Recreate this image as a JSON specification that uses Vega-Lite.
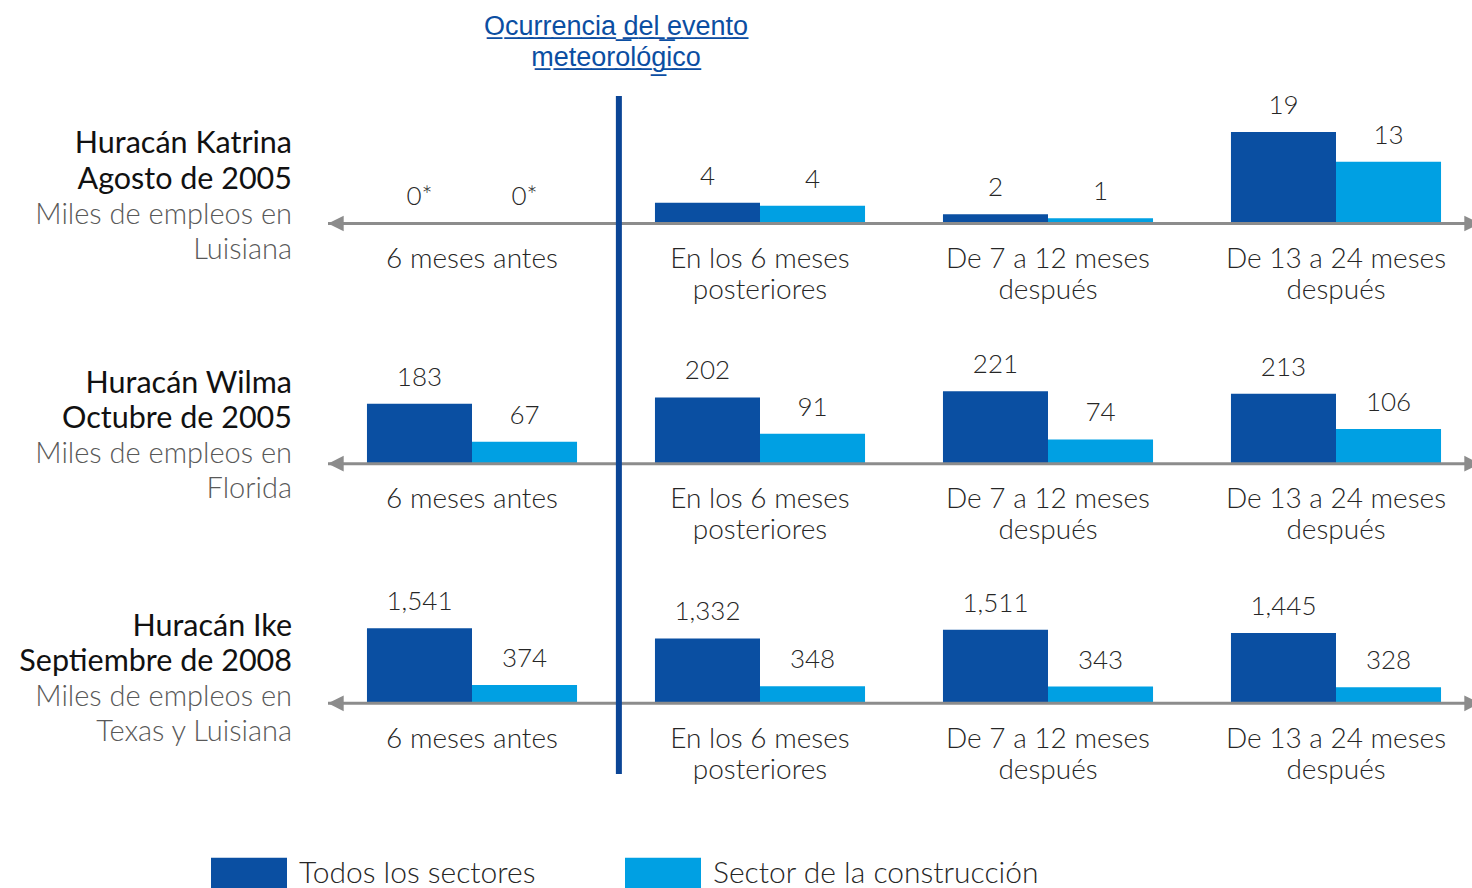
{
  "$schema": "https://vega.github.io/schema/vega-lite/v6.json",
  "padding": {"top": 12, "left": 0, "right": 0, "bottom": 0},
  "background": "white",
  "config": {"view": {"stroke": null}, "font": "Lato"},
  "title": {
    "text": ["O\u0332c\u0332u\u0332r\u0332r\u0332e\u0332n\u0332c\u0332i\u0332a\u0332 \u0332d\u0332e\u0332l\u0332 \u0332e\u0332v\u0332e\u0332n\u0332t\u0332o\u0332", "m\u0332e\u0332t\u0332e\u0332o\u0332r\u0332o\u0332l\u0332\u00f3\u0332g\u0332i\u0332c\u0332o\u0332"],
    "anchor": "start", "align": "center", "dx": 616, "frame": "group",
    "font": "Liberation Sans", "fontSize": 27, "fontWeight": "normal", "color": "#0b4ea2",
    "lineHeight": 31, "offset": 21
  },
  "datasets": {
    "bars": [
      {"storm": "Katrina", "cat": "6 meses antes", "series": "Todos los sectores", "value": 0, "label": "0*"},
      {"storm": "Katrina", "cat": "6 meses antes", "series": "Sector de la construcción", "value": 0, "label": "0*"},
      {"storm": "Katrina", "cat": "En los 6 meses posteriores", "series": "Todos los sectores", "value": 4.3, "label": "4"},
      {"storm": "Katrina", "cat": "En los 6 meses posteriores", "series": "Sector de la construcción", "value": 3.7, "label": "4"},
      {"storm": "Katrina", "cat": "De 7 a 12 meses después", "series": "Todos los sectores", "value": 1.9, "label": "2"},
      {"storm": "Katrina", "cat": "De 7 a 12 meses después", "series": "Sector de la construcción", "value": 1.1, "label": "1"},
      {"storm": "Katrina", "cat": "De 13 a 24 meses después", "series": "Todos los sectores", "value": 19, "label": "19"},
      {"storm": "Katrina", "cat": "De 13 a 24 meses después", "series": "Sector de la construcción", "value": 12.8, "label": "13"},
      {"storm": "Wilma", "cat": "6 meses antes", "series": "Todos los sectores", "value": 183, "label": "183"},
      {"storm": "Wilma", "cat": "6 meses antes", "series": "Sector de la construcción", "value": 67, "label": "67"},
      {"storm": "Wilma", "cat": "En los 6 meses posteriores", "series": "Todos los sectores", "value": 202, "label": "202"},
      {"storm": "Wilma", "cat": "En los 6 meses posteriores", "series": "Sector de la construcción", "value": 91, "label": "91"},
      {"storm": "Wilma", "cat": "De 7 a 12 meses después", "series": "Todos los sectores", "value": 221, "label": "221"},
      {"storm": "Wilma", "cat": "De 7 a 12 meses después", "series": "Sector de la construcción", "value": 74, "label": "74"},
      {"storm": "Wilma", "cat": "De 13 a 24 meses después", "series": "Todos los sectores", "value": 213, "label": "213"},
      {"storm": "Wilma", "cat": "De 13 a 24 meses después", "series": "Sector de la construcción", "value": 106, "label": "106"},
      {"storm": "Ike", "cat": "6 meses antes", "series": "Todos los sectores", "value": 1541, "label": "1,541"},
      {"storm": "Ike", "cat": "6 meses antes", "series": "Sector de la construcción", "value": 374, "label": "374"},
      {"storm": "Ike", "cat": "En los 6 meses posteriores", "series": "Todos los sectores", "value": 1332, "label": "1,332"},
      {"storm": "Ike", "cat": "En los 6 meses posteriores", "series": "Sector de la construcción", "value": 348, "label": "348"},
      {"storm": "Ike", "cat": "De 7 a 12 meses después", "series": "Todos los sectores", "value": 1511, "label": "1,511"},
      {"storm": "Ike", "cat": "De 7 a 12 meses después", "series": "Sector de la construcción", "value": 343, "label": "343"},
      {"storm": "Ike", "cat": "De 13 a 24 meses después", "series": "Todos los sectores", "value": 1445, "label": "1,445"},
      {"storm": "Ike", "cat": "De 13 a 24 meses después", "series": "Sector de la construcción", "value": 328, "label": "328"}
    ],
    "labels": [
      {"storm": "Katrina", "line": 1, "text": "Huracán Katrina"},
      {"storm": "Katrina", "line": 2, "text": "Agosto de 2005"},
      {"storm": "Katrina", "line": 3, "text": "Miles de empleos en"},
      {"storm": "Katrina", "line": 4, "text": "Luisiana"},
      {"storm": "Wilma", "line": 1, "text": "Huracán Wilma"},
      {"storm": "Wilma", "line": 2, "text": "Octubre de 2005"},
      {"storm": "Wilma", "line": 3, "text": "Miles de empleos en"},
      {"storm": "Wilma", "line": 4, "text": "Florida"},
      {"storm": "Ike", "line": 1, "text": "Huracán Ike"},
      {"storm": "Ike", "line": 2, "text": "Septiembre de 2008"},
      {"storm": "Ike", "line": 3, "text": "Miles de empleos en"},
      {"storm": "Ike", "line": 4, "text": "Texas y Luisiana"}
    ]
  },
  "spacing": 0,
  "vconcat": [
    {
      "spacing": 36, "bounds": "flush",
      "hconcat": [
        {
          "width": 292, "height": 240,
          "data": {"name": "labels"},
          "transform": [{"filter": "datum.storm == 'Katrina'"}],
          "encoding": {
            "x": {"datum": 1, "type": "quantitative", "scale": {"domain": [0, 1]}, "axis": null},
            "y": {"field": "line", "type": "quantitative", "scale": {"domain": [-0.3857, 6.4714], "reverse": true, "nice": false, "zero": false}, "axis": null},
            "text": {"field": "text"}
          },
          "layer": [
            {"transform": [{"filter": "datum.line <= 2"}], "mark": {"type": "text", "align": "right", "baseline": "middle", "fontSize": 30.5, "font": "Lato", "fontWeight": 400, "color": "#111111"}},
            {"transform": [{"filter": "datum.line > 2"}], "mark": {"type": "text", "align": "right", "baseline": "middle", "fontSize": 29, "font": "Lato", "fontWeight": 300, "color": "#595959"}}
          ]
        },
        {
          "width": 1144, "height": 240,
          "data": {"name": "bars"},
          "transform": [{"filter": "datum.storm == 'Katrina'"}],
          "layer": [
            {
              "mark": {"type": "bar"},
              "encoding": {
                "x": {"field": "cat", "type": "nominal", "sort": ["6 meses antes", "En los 6 meses posteriores", "De 7 a 12 meses después", "De 13 a 24 meses después"], "scale": {"range": [0, 1152], "paddingInner": 0, "paddingOuter": 0},
                  "axis": {"orient": "bottom", "offset": -112.5, "title": null, "domain": false, "ticks": false, "labelAngle": 0, "labelFont": "Lato", "labelFontWeight": 300, "labelFontSize": 28, "labelColor": "#262626", "labelPadding": 22, "labelBaseline": "top", "labelLineHeight": 31, "labelLimit": 400,
                    "labelExpr": "split(replace(replace(datum.label, ' posteriores', '|posteriores'), ' después', '|después'), '|')"}},
                "xOffset": {"field": "series", "sort": ["Todos los sectores", "Sector de la construcción"], "scale": {"paddingInner": 0, "paddingOuter": 0.371}},
                "y": {"field": "value", "type": "quantitative", "scale": {"domain": [-23.34, 26.45], "nice": false, "zero": false}, "axis": null},
                "color": {"field": "series", "type": "nominal", "scale": {"domain": ["Todos los sectores", "Sector de la construcción"], "range": ["#0a4fa2", "#00a0e3"]},
                  "legend": {"orient": "none", "legendX": 211, "legendY": 740, "direction": "horizontal", "title": null, "symbolType": "M-1,-0.434H1V0.434H-1Z", "symbolSize": 5776, "symbolStrokeWidth": 0, "labelFont": "Lato", "labelFontWeight": 300, "labelFontSize": 30, "labelColor": "#262626", "labelOffset": 12, "columnPadding": 89, "labelLimit": 400, "padding": 0}}
              }
            },
            {
              "mark": {"type": "text", "baseline": "alphabetic", "dy": -18, "fontSize": 26, "font": "Lato", "fontWeight": 300, "color": "#262626"},
              "encoding": {
                "x": {"field": "cat", "type": "nominal", "sort": ["6 meses antes", "En los 6 meses posteriores", "De 7 a 12 meses después", "De 13 a 24 meses después"]},
                "xOffset": {"field": "series", "sort": ["Todos los sectores", "Sector de la construcción"]},
                "y": {"field": "value", "type": "quantitative"},
                "text": {"field": "label"}
              }
            },
            {
              "transform": [{"filter": "datum.cat == '6 meses antes' && datum.series == 'Todos los sectores'"}],
              "mark": {"type": "rule", "color": "#8c8c8c", "strokeWidth": 3},
              "encoding": {"y": {"datum": 0, "type": "quantitative"}}
            },
            {
              "transform": [{"filter": "datum.cat == '6 meses antes' && datum.series == 'Todos los sectores'"}],
              "mark": {"type": "point", "shape": "M0,0L2,-1L2,1Z", "size": 246, "filled": true, "color": "#8c8c8c", "opacity": 1, "clip": true},
              "encoding": {"x": {"field": "cat", "type": "nominal", "sort": ["6 meses antes", "En los 6 meses posteriores", "De 7 a 12 meses después", "De 13 a 24 meses después"], "bandPosition": 0}, "y": {"datum": 0, "type": "quantitative"}}
            },
            {
              "transform": [{"filter": "datum.cat == 'De 13 a 24 meses después' && datum.series == 'Todos los sectores'"}],
              "mark": {"type": "point", "shape": "M0,0L-2,-1L-2,1Z", "size": 246, "filled": true, "color": "#8c8c8c", "opacity": 1, "clip": true},
              "encoding": {"x": {"field": "cat", "type": "nominal", "sort": ["6 meses antes", "En los 6 meses posteriores", "De 7 a 12 meses después", "De 13 a 24 meses después"], "bandPosition": 1}, "y": {"datum": 0, "type": "quantitative"}}
            },
            {
              "transform": [{"filter": "datum.cat == 'En los 6 meses posteriores' && datum.series == 'Todos los sectores'"}],
              "mark": {"type": "rule", "color": "#0b4596", "strokeWidth": 6, "clip": true},
              "encoding": {"x": {"field": "cat", "type": "nominal", "sort": ["6 meses antes", "En los 6 meses posteriores", "De 7 a 12 meses después", "De 13 a 24 meses después"], "bandPosition": 0.01}}
            }
          ]
        }
      ]
    },
    {
      "spacing": 36, "bounds": "flush",
      "hconcat": [
        {
          "width": 292, "height": 240,
          "data": {"name": "labels"},
          "transform": [{"filter": "datum.storm == 'Wilma'"}],
          "encoding": {
            "x": {"datum": 1, "type": "quantitative", "scale": {"domain": [0, 1]}, "axis": null},
            "y": {"field": "line", "type": "quantitative", "scale": {"domain": [-0.3714, 6.4857], "reverse": true, "nice": false, "zero": false}, "axis": null},
            "text": {"field": "text"}
          },
          "layer": [
            {"transform": [{"filter": "datum.line <= 2"}], "mark": {"type": "text", "align": "right", "baseline": "middle", "fontSize": 30.5, "font": "Lato", "fontWeight": 400, "color": "#111111"}},
            {"transform": [{"filter": "datum.line > 2"}], "mark": {"type": "text", "align": "right", "baseline": "middle", "fontSize": 29, "font": "Lato", "fontWeight": 300, "color": "#595959"}}
          ]
        },
        {
          "width": 1144, "height": 240,
          "data": {"name": "bars"},
          "transform": [{"filter": "datum.storm == 'Wilma'"}],
          "layer": [
            {
              "mark": {"type": "bar"},
              "encoding": {
                "x": {"field": "cat", "type": "nominal", "sort": ["6 meses antes", "En los 6 meses posteriores", "De 7 a 12 meses después", "De 13 a 24 meses después"], "scale": {"range": [0, 1152], "paddingInner": 0, "paddingOuter": 0},
                  "axis": {"orient": "bottom", "offset": -112.3, "title": null, "domain": false, "ticks": false, "labelAngle": 0, "labelFont": "Lato", "labelFontWeight": 300, "labelFontSize": 28, "labelColor": "#262626", "labelPadding": 22, "labelBaseline": "top", "labelLineHeight": 31, "labelLimit": 400,
                    "labelExpr": "split(replace(replace(datum.label, ' posteriores', '|posteriores'), ' después', '|después'), '|')"}},
                "xOffset": {"field": "series", "sort": ["Todos los sectores", "Sector de la construcción"], "scale": {"paddingInner": 0, "paddingOuter": 0.371}},
                "y": {"field": "value", "type": "quantitative", "scale": {"domain": [-342.4, 389.3], "nice": false, "zero": false}, "axis": null},
                "color": {"field": "series", "type": "nominal", "scale": {"domain": ["Todos los sectores", "Sector de la construcción"], "range": ["#0a4fa2", "#00a0e3"]},
                  "legend": {"orient": "none", "legendX": 211, "legendY": 740, "direction": "horizontal", "title": null, "symbolType": "M-1,-0.434H1V0.434H-1Z", "symbolSize": 5776, "symbolStrokeWidth": 0, "labelFont": "Lato", "labelFontWeight": 300, "labelFontSize": 30, "labelColor": "#262626", "labelOffset": 12, "columnPadding": 89, "labelLimit": 400, "padding": 0}}
              }
            },
            {
              "mark": {"type": "text", "baseline": "alphabetic", "dy": -18, "fontSize": 26, "font": "Lato", "fontWeight": 300, "color": "#262626"},
              "encoding": {
                "x": {"field": "cat", "type": "nominal", "sort": ["6 meses antes", "En los 6 meses posteriores", "De 7 a 12 meses después", "De 13 a 24 meses después"]},
                "xOffset": {"field": "series", "sort": ["Todos los sectores", "Sector de la construcción"]},
                "y": {"field": "value", "type": "quantitative"},
                "text": {"field": "label"}
              }
            },
            {
              "transform": [{"filter": "datum.cat == '6 meses antes' && datum.series == 'Todos los sectores'"}],
              "mark": {"type": "rule", "color": "#8c8c8c", "strokeWidth": 3},
              "encoding": {"y": {"datum": 0, "type": "quantitative"}}
            },
            {
              "transform": [{"filter": "datum.cat == '6 meses antes' && datum.series == 'Todos los sectores'"}],
              "mark": {"type": "point", "shape": "M0,0L2,-1L2,1Z", "size": 246, "filled": true, "color": "#8c8c8c", "opacity": 1, "clip": true},
              "encoding": {"x": {"field": "cat", "type": "nominal", "sort": ["6 meses antes", "En los 6 meses posteriores", "De 7 a 12 meses después", "De 13 a 24 meses después"], "bandPosition": 0}, "y": {"datum": 0, "type": "quantitative"}}
            },
            {
              "transform": [{"filter": "datum.cat == 'De 13 a 24 meses después' && datum.series == 'Todos los sectores'"}],
              "mark": {"type": "point", "shape": "M0,0L-2,-1L-2,1Z", "size": 246, "filled": true, "color": "#8c8c8c", "opacity": 1, "clip": true},
              "encoding": {"x": {"field": "cat", "type": "nominal", "sort": ["6 meses antes", "En los 6 meses posteriores", "De 7 a 12 meses después", "De 13 a 24 meses después"], "bandPosition": 1}, "y": {"datum": 0, "type": "quantitative"}}
            },
            {
              "transform": [{"filter": "datum.cat == 'En los 6 meses posteriores' && datum.series == 'Todos los sectores'"}],
              "mark": {"type": "rule", "color": "#0b4596", "strokeWidth": 6, "clip": true},
              "encoding": {"x": {"field": "cat", "type": "nominal", "sort": ["6 meses antes", "En los 6 meses posteriores", "De 7 a 12 meses después", "De 13 a 24 meses después"], "bandPosition": 0.01}}
            }
          ]
        }
      ]
    },
    {
      "spacing": 36, "bounds": "flush",
      "hconcat": [
        {
          "width": 292, "height": 198,
          "data": {"name": "labels"},
          "transform": [{"filter": "datum.storm == 'Ike'"}],
          "encoding": {
            "x": {"datum": 1, "type": "quantitative", "scale": {"domain": [0, 1]}, "axis": null},
            "y": {"field": "line", "type": "quantitative", "scale": {"domain": [-0.4571, 5.2], "reverse": true, "nice": false, "zero": false}, "axis": null},
            "text": {"field": "text"}
          },
          "layer": [
            {"transform": [{"filter": "datum.line <= 2"}], "mark": {"type": "text", "align": "right", "baseline": "middle", "fontSize": 30.5, "font": "Lato", "fontWeight": 400, "color": "#111111"}},
            {"transform": [{"filter": "datum.line > 2"}], "mark": {"type": "text", "align": "right", "baseline": "middle", "fontSize": 29, "font": "Lato", "fontWeight": 300, "color": "#595959"}}
          ]
        },
        {
          "width": 1144, "height": 198,
          "data": {"name": "bars"},
          "transform": [{"filter": "datum.storm == 'Ike'"}],
          "layer": [
            {
              "mark": {"type": "bar"},
              "encoding": {
                "x": {"field": "cat", "type": "nominal", "sort": ["6 meses antes", "En los 6 meses posteriores", "De 7 a 12 meses después", "De 13 a 24 meses después"], "scale": {"range": [0, 1152], "paddingInner": 0, "paddingOuter": 0},
                  "axis": {"orient": "bottom", "offset": -70.7, "title": null, "domain": false, "ticks": false, "labelAngle": 0, "labelFont": "Lato", "labelFontWeight": 300, "labelFontSize": 28, "labelColor": "#262626", "labelPadding": 22, "labelBaseline": "top", "labelLineHeight": 31, "labelLimit": 400,
                    "labelExpr": "split(replace(replace(datum.label, ' posteriores', '|posteriores'), ' después', '|después'), '|')"}},
                "xOffset": {"field": "series", "sort": ["Todos los sectores", "Sector de la construcción"], "scale": {"paddingInner": 0, "paddingOuter": 0.371}},
                "y": {"field": "value", "type": "quantitative", "scale": {"domain": [-1453, 2616], "nice": false, "zero": false}, "axis": null},
                "color": {"field": "series", "type": "nominal", "scale": {"domain": ["Todos los sectores", "Sector de la construcción"], "range": ["#0a4fa2", "#00a0e3"]},
                  "legend": {"orient": "none", "legendX": 211, "legendY": 740, "direction": "horizontal", "title": null, "symbolType": "M-1,-0.434H1V0.434H-1Z", "symbolSize": 5776, "symbolStrokeWidth": 0, "labelFont": "Lato", "labelFontWeight": 300, "labelFontSize": 30, "labelColor": "#262626", "labelOffset": 12, "columnPadding": 89, "labelLimit": 400, "padding": 0}}
              }
            },
            {
              "mark": {"type": "text", "baseline": "alphabetic", "dy": -18, "fontSize": 26, "font": "Lato", "fontWeight": 300, "color": "#262626"},
              "encoding": {
                "x": {"field": "cat", "type": "nominal", "sort": ["6 meses antes", "En los 6 meses posteriores", "De 7 a 12 meses después", "De 13 a 24 meses después"]},
                "xOffset": {"field": "series", "sort": ["Todos los sectores", "Sector de la construcción"]},
                "y": {"field": "value", "type": "quantitative"},
                "text": {"field": "label"}
              }
            },
            {
              "transform": [{"filter": "datum.cat == '6 meses antes' && datum.series == 'Todos los sectores'"}],
              "mark": {"type": "rule", "color": "#8c8c8c", "strokeWidth": 3},
              "encoding": {"y": {"datum": 0, "type": "quantitative"}}
            },
            {
              "transform": [{"filter": "datum.cat == '6 meses antes' && datum.series == 'Todos los sectores'"}],
              "mark": {"type": "point", "shape": "M0,0L2,-1L2,1Z", "size": 246, "filled": true, "color": "#8c8c8c", "opacity": 1, "clip": true},
              "encoding": {"x": {"field": "cat", "type": "nominal", "sort": ["6 meses antes", "En los 6 meses posteriores", "De 7 a 12 meses después", "De 13 a 24 meses después"], "bandPosition": 0}, "y": {"datum": 0, "type": "quantitative"}}
            },
            {
              "transform": [{"filter": "datum.cat == 'De 13 a 24 meses después' && datum.series == 'Todos los sectores'"}],
              "mark": {"type": "point", "shape": "M0,0L-2,-1L-2,1Z", "size": 246, "filled": true, "color": "#8c8c8c", "opacity": 1, "clip": true},
              "encoding": {"x": {"field": "cat", "type": "nominal", "sort": ["6 meses antes", "En los 6 meses posteriores", "De 7 a 12 meses después", "De 13 a 24 meses después"], "bandPosition": 1}, "y": {"datum": 0, "type": "quantitative"}}
            },
            {
              "transform": [{"filter": "datum.cat == 'En los 6 meses posteriores' && datum.series == 'Todos los sectores'"}],
              "mark": {"type": "rule", "color": "#0b4596", "strokeWidth": 6, "clip": true},
              "encoding": {"x": {"field": "cat", "type": "nominal", "sort": ["6 meses antes", "En los 6 meses posteriores", "De 7 a 12 meses después", "De 13 a 24 meses después"], "bandPosition": 0.01}}
            }
          ]
        }
      ]
    }
  ]
}
